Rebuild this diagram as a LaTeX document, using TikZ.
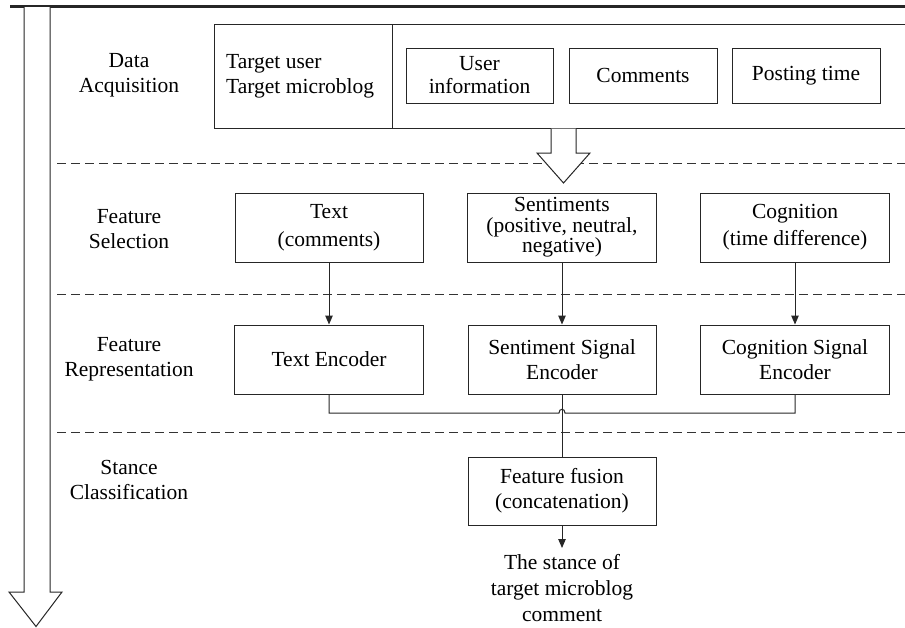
\documentclass[tikz,border=0pt]{standalone}
\usepackage{fontspec}
\setmainfont{Liberation Serif}
\usetikzlibrary{arrows.meta}
\begin{document}
\begin{tikzpicture}[x=1pt,y=-1pt,
  box/.style={draw=black!85, line width=1pt, align=center, inner sep=0pt, font=\fontsize{21.5}{25}\selectfont},
  lbl/.style={align=center, inner sep=0pt, font=\fontsize{21.5}{25}\selectfont},
  conn/.style={draw=black!85, line width=1pt},
  arr/.style={conn, -{Triangle[length=9pt,width=7.5pt]}},
  sepline/.style={draw=black!80, line width=1pt, dash pattern=on 9pt off 5pt},
  hollow/.style={draw=black!85, fill=white, line width=1pt, line join=miter}]
\useasboundingbox (0,0) rectangle (905,627);
\clip (0,0) rectangle (905,627);

% section separators
\draw[sepline] (57,163) -- (905,163);
\draw[sepline] (57,294) -- (905,294);
\draw[sepline] (57,432) -- (905,432);

% top rule
\draw[line width=3pt, black!85] (10,6) -- (905,6);

% left process arrow
\draw[hollow] (24,7) -- (24,592) -- (9,592) -- (36,626.5) -- (62,592) -- (50,592) -- (50,7);

% left labels
\node[lbl] (lacq) at (129,75) {Data\\Acquisition};
\node[lbl] (lsel) at (129,229) {Feature\\Selection};
\node[lbl] (lrep) at (129,359) {Feature\\Representation};
\node[lbl] (lcls) at (129,480) {Stance\\Classification};

% data acquisition frame (open at the right, runs off the page)
\draw[conn] (906,24) -- (214,24) -- (214,128) -- (906,128);
\draw[conn] (392,24) -- (392,128);
\node[lbl, align=left, anchor=west] (target) at (226,76) {Target user\\Target microblog};
\node[box, minimum width=147pt, minimum height=55pt, font=\fontsize{21.5}{23}\selectfont] (uinfo) at (479.5,75.5) {User\\information};
\node[box, minimum width=148pt, minimum height=55pt] (comm) at (643,75.5) {Comments};
\node[box, minimum width=148pt, minimum height=55pt] (ptime) at (806,75.5) {Posting time};

% hollow arrow down
\draw[hollow] (551,128.6) -- (551,153) -- (537,153) -- (563.5,183) -- (590,153) -- (576,153) -- (576,128.6);

% feature selection
\node[box, minimum width=188pt, minimum height=69pt, font=\fontsize{21.5}{28}\selectfont] (txt) at (329,227.5) {Text\\(comments)};
\node[box, minimum width=189pt, minimum height=69pt, font=\fontsize{21.5}{20.5}\selectfont] (sent) at (562,227.5) {Sentiments\\(positive, neutral,\\negative)};
\node[box, minimum width=189pt, minimum height=69pt, font=\fontsize{21.5}{27}\selectfont] (cogn) at (795,227.5) {Cognition\\(time difference)};

% feature representation
\node[box, minimum width=189pt, minimum height=69pt] (tenc) at (329,359.5) {Text Encoder};
\node[box, minimum width=188pt, minimum height=69pt] (senc) at (562,359.5) {Sentiment Signal\\Encoder};
\node[box, minimum width=189pt, minimum height=69pt] (cenc) at (795,359.5) {Cognition Signal\\Encoder};

\draw[arr] (txt.south) -- (tenc.north);
\draw[arr] (sent.south) -- (senc.north);
\draw[arr] (cogn.south) -- (cenc.north);

% stance classification
\node[box, minimum width=188pt, minimum height=68pt] (fus) at (562,491) {Feature fusion\\(concatenation)};
\node[lbl, anchor=north, inner ysep=6pt, font=\fontsize{21.5}{26}\selectfont] (stance) at (562,548) {The stance of\\target microblog\\comment};

\coordinate (busy) at (0,413);
\draw[conn] (tenc.south) -- (tenc.south |- busy) -- (559,413) .. controls (559,408) and (565,408) .. (565,413) -- (cenc.south |- busy) -- (cenc.south);
\draw[conn] (senc.south) -- (fus.north);
\draw[arr] (fus.south) -- (stance.north);
\end{tikzpicture}
\end{document}
